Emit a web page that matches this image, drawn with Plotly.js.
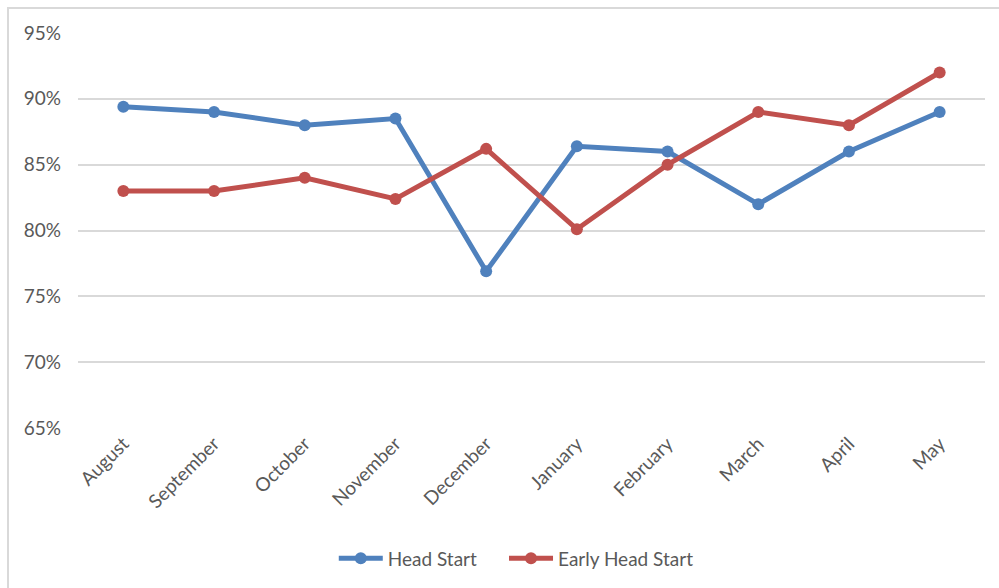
<!DOCTYPE html>
<html>
<head>
<meta charset="utf-8">
<script src="https://cdn.plot.ly/plotly-3.0.1.min.js"></script>
<style>
html,body{margin:0;padding:0;overflow:hidden;background:#fff;}
#wrap{position:relative;width:999px;height:588px;overflow:hidden;}
#chart{position:absolute;left:0;top:0;width:999px;height:588px;}
#frame{position:absolute;left:7px;top:7px;width:1100px;height:700px;border:2px solid #d9d9d9;pointer-events:none;}
</style>
</head>
<body>
<div id="wrap"><div id="chart"></div><div id="frame"></div></div>
<script>
const months = ["August","September","October","November","December","January","February","March","April","May"];
const headStart = [0.894, 0.890, 0.880, 0.885, 0.769, 0.864, 0.860, 0.820, 0.860, 0.890];
const earlyHeadStart = [0.830, 0.830, 0.840, 0.824, 0.862, 0.801, 0.850, 0.890, 0.880, 0.920];
const seriesNames = ["Head Start", "Early Head Start"];
const yTicks = [0.65, 0.70, 0.75, 0.80, 0.85, 0.90, 0.95];

const font = "Lato, 'Open Sans', 'Liberation Sans', sans-serif";
const traces = [
  {x: months, y: headStart, name: seriesNames[0], type: "scatter", mode: "lines+markers", legend: "legend",
   line: {color: "#4F81BD", width: 5}, marker: {color: "#4F81BD", size: 12}},
  {x: months, y: earlyHeadStart, name: seriesNames[1], type: "scatter", mode: "lines+markers", legend: "legend2",
   line: {color: "#C0504D", width: 5}, marker: {color: "#C0504D", size: 12}}
];
const legendFont = {family: font, size: 19, color: "#595959"};
const layout = {
  width: 999, height: 588,
  margin: {l: 78, r: 14, t: 33, b: 160, autoexpand: false},
  paper_bgcolor: "#fff", plot_bgcolor: "#fff",
  font: {family: font, size: 19, color: "#595959"},
  showlegend: true,
  legend: {orientation: "h", x: 0.282, xanchor: "left", y: -0.33, yanchor: "middle",
           font: legendFont, itemwidth: 44},
  legend2: {orientation: "h", x: 0.4697, xanchor: "left", y: -0.33, yanchor: "middle",
           font: legendFont, itemwidth: 44},
  xaxis: {type: "category", range: [-0.5, 9.5], tickangle: -45, showgrid: false, zeroline: false, showline: false,
          automargin: false, ticks: "", tickfont: {family: font, size: 19, color: "#595959"}},
  yaxis: {range: [0.65, 0.95], tickvals: yTicks, tickformat: ".0%", showgrid: true, automargin: false,
          gridcolor: "#d9d9d9", gridwidth: 2, zeroline: false, showline: false, ticks: "",
          ticklabelstandoff: 16, tickfont: {family: font, size: 19, color: "#595959"}}
};
Plotly.newPlot("chart", traces, layout, {staticPlot: true});
</script>
</body>
</html>
